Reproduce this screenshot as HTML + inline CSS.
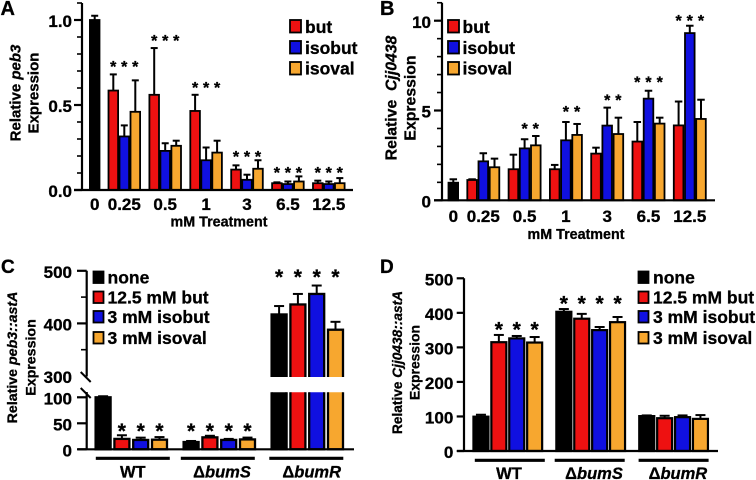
<!DOCTYPE html>
<html lang="en">
<head>
<meta charset="utf-8">
<title>Relative expression bar charts</title>
<style>
html,body{margin:0;padding:0;background:#fff;width:756px;height:480px;overflow:hidden}
svg{display:block}
text{font-family:"Liberation Sans",Arial,sans-serif;font-weight:bold;fill:#000;stroke:#000;stroke-width:.3px}
.leg{font-size:17.5px}
.swatch{stroke:#000;stroke-width:1.8}
</style>
</head>
<body>
<svg id="fig" xmlns="http://www.w3.org/2000/svg" width="756" height="480" viewBox="0 0 756 480">
  <defs>
    <clipPath id="clip-upper"><rect x="84" y="260" width="275" height="117"/></clipPath>
    <clipPath id="clip-lower"><rect x="84" y="392.3" width="275" height="60"/></clipPath>
  </defs>
  <g id="panel-a">
    <text x="0.5" y="15" font-size="20">A</text>
    <text transform="translate(20.5,93) rotate(-90)" text-anchor="middle" font-size="15">Relative <tspan font-style="italic">peb3</tspan></text>
    <text transform="translate(38.5,93) rotate(-90)" text-anchor="middle" font-size="15">Expression</text>
    <text x="219" y="226.5" text-anchor="middle" font-size="14.3">mM Treatment</text>
    <g>
      <rect class="swatch" x="290" y="20" width="11" height="12.5" fill="#ee1111"/>
      <rect class="swatch" x="290" y="41" width="11" height="12.5" fill="#1010e0"/>
      <rect class="swatch" x="290" y="62" width="11" height="12.5" fill="#f7a72f"/>
      <text class="leg" x="305" y="33">but</text>
      <text class="leg" x="305" y="54">isobut</text>
      <text class="leg" x="305" y="74.5">isoval</text>
    </g>
  </g>
  <g id="panel-b">
    <text x="380" y="15" font-size="20">B</text>
    <text transform="translate(396.5,98) rotate(-90)" text-anchor="middle" font-size="15.8" xml:space="preserve">Relative  <tspan font-style="italic">Cjj0438</tspan></text>
    <text transform="translate(415.5,98) rotate(-90)" text-anchor="middle" font-size="15.8">Expression</text>
    <text x="576" y="239" text-anchor="middle" font-size="14.3">mM Treatment</text>
    <g>
      <rect class="swatch" x="448" y="20" width="11" height="12.5" fill="#ee1111"/>
      <rect class="swatch" x="448" y="41" width="11" height="12.5" fill="#1010e0"/>
      <rect class="swatch" x="448" y="62" width="11" height="12.5" fill="#f7a72f"/>
      <text class="leg" x="462.5" y="33">but</text>
      <text class="leg" x="462.5" y="54">isobut</text>
      <text class="leg" x="462.5" y="74.5">isoval</text>
    </g>
  </g>
  <g id="panel-c">
    <text x="1" y="273" font-size="19">C</text>
    <text transform="translate(17,357.5) rotate(-90)" text-anchor="middle" font-size="14.2">Relative <tspan font-style="italic">peb3::astA</tspan></text>
    <text transform="translate(35.5,357.5) rotate(-90)" text-anchor="middle" font-size="14.2">Expression</text>
    <g>
      <rect class="swatch" x="93.5" y="271.5" width="10" height="11.5" fill="#000"/>
      <rect class="swatch" x="93.5" y="291.5" width="10" height="11.5" fill="#ee1111"/>
      <rect class="swatch" x="93.5" y="311" width="10" height="11.5" fill="#1010e0"/>
      <rect class="swatch" x="93.5" y="332" width="10" height="11.5" fill="#f7a72f"/>
      <text class="leg" x="107.5" y="283.5">none</text>
      <text class="leg" x="107.5" y="303.5">12.5 mM but</text>
      <text class="leg" x="107.5" y="323">3 mM isobut</text>
      <text class="leg" x="107.5" y="344">3 mM isoval</text>
    </g>
  </g>
  <g id="panel-d">
    <text x="380" y="273" font-size="19">D</text>
    <text transform="translate(402,362.5) rotate(-90)" text-anchor="middle" font-size="13.7">Relative <tspan font-style="italic">Cjj0438::astA</tspan></text>
    <text transform="translate(419.5,362.5) rotate(-90)" text-anchor="middle" font-size="13.9">Expression</text>
    <g>
      <rect class="swatch" x="638.5" y="271.5" width="10" height="11.5" fill="#000"/>
      <rect class="swatch" x="638.5" y="291.5" width="10" height="11.5" fill="#ee1111"/>
      <rect class="swatch" x="638.5" y="311" width="10" height="11.5" fill="#1010e0"/>
      <rect class="swatch" x="638.5" y="332" width="10" height="11.5" fill="#f7a72f"/>
      <text class="leg" x="653" y="283.5">none</text>
      <text class="leg" x="653" y="303.5">12.5 mM but</text>
      <text class="leg" x="653" y="323">3 mM isobut</text>
      <text class="leg" x="653" y="344">3 mM isoval</text>
    </g>
  </g>
</svg>
<script>
// ---- Panel A data ----
const doseCategories = ['0.25', '0.5', '1', '3', '6.5', '12.5'];
const aControl = 1.0;
const aControlErr = 0.025;
const aBut = [0.585, 0.56, 0.465, 0.12, 0.04, 0.04];
const aButErr = [0.095, 0.275, 0.095, 0.025, 0.005, 0.015];
const aIsobut = [0.315, 0.23, 0.175, 0.06, 0.035, 0.035];
const aIsobutErr = [0.065, 0.045, 0.075, 0.03, 0.015, 0.015];
const aIsoval = [0.46, 0.26, 0.22, 0.125, 0.05, 0.04];
const aIsovalErr = [0.185, 0.03, 0.07, 0.05, 0.03, 0.03];
const aStarLevels = [0.747, 0.9, 0.624, 0.218, 0.124, 0.124];
const aStarred = [[0,1,2],[0,1,2],[0,1,2],[0,1,2],[0,1,2],[0,1,2]];
const aTicks = [0, 0.5, 1];
const aTickLabels = ['0.0', '0.5', '1.0'];

// ---- Panel B data ----
const bControl = 0.98;
const bControlErr = 0.19;
const bBut = [1.13, 1.73, 1.73, 2.6, 3.27, 4.17];
const bButErr = [0.04, 0.81, 0.24, 0.33, 1.09, 1.33];
const bIsobut = [2.17, 2.89, 3.34, 4.16, 5.66, 9.31];
const bIsobutErr = [0.45, 0.51, 1.02, 1.0, 0.44, 0.41];
const bIsoval = [1.84, 3.06, 3.64, 3.69, 4.27, 4.53];
const bIsovalErr = [0.48, 0.52, 0.61, 0.91, 0.33, 1.07];
const bStarLevels = [null, 4.19, 5.14, 5.8, 6.8, 10.2];
const bStarred = [[],[1,2],[1,2],[1,2],[0,1,2],[0,1,2]];
const bTicks = [0, 5, 10];
const bTickLabels = ['0', '5', '10'];

// ---- Panel C data (broken axis) ----
const strainCategories = ['WT', 'bumS', 'bumR'];
const cNone = [100, 14, 417];
const cNoneErr = [2, 2, 16];
const cBut = [20, 23, 436];
const cButErr = [7, 3, 20];
const cIsobut = [18, 18, 456];
const cIsobutErr = [4.4, 2, 16];
const cIsoval = [18.5, 19, 388];
const cIsovalErr = [5, 3.5, 15];
const cStarLevels = [45, 45, 498];
const cStarred = [[1,2,3],[0,1,2,3],[0,1,2,3]];
const cTicks = [0, 50, 100, 300, 400, 500];
const cTickLabels = ['0', '50', '100', '300', '400', '500'];
const cMinorTicks = [350, 450];

// ---- Panel D data ----
const dNone = [99.4, 403, 101];
const dNoneErr = [5.6, 8, 2];
const dBut = [315, 383, 95];
const dButErr = [21, 14, 7];
const dIsobut = [326, 350, 98];
const dIsobutErr = [7, 9, 5];
const dIsoval = [314, 373, 93];
const dIsovalErr = [16, 15, 11];
const dStarLevels = [366, 442, null];
const dStarred = [[1,2,3],[0,1,2,3],[]];
const dTicks = [0, 100, 200, 300, 400, 500];
const dTickLabels = ['0', '100', '200', '300', '400', '500'];

const seriesColors = ['#000000', '#ee1111', '#1010e0', '#f7a72f'];
const seriesNames = ['none', 'but', 'isobut', 'isoval'];

const NS = 'http://www.w3.org/2000/svg';
function make(tag, parent, attrs) {
  const e = document.createElementNS(NS, tag);
  for (const k in attrs) e.setAttribute(k, attrs[k]);
  parent.appendChild(e);
  return e;
}
function line(parent, x1, y1, x2, y2, w, name) {
  const l = make('line', parent, {x1: x1, y1: y1, x2: x2, y2: y2, stroke: '#000', 'stroke-width': w});
  
  
  return l;
}
function label(parent, x, y, str, size, anchor, name) {
  const t = make('text', parent, {x: x, y: y + size * 0.36, 'font-size': size, 'text-anchor': anchor});
  t.textContent = str;
  
  
  return t;
}
function star(parent, x, y, size) {
  const t = make('text', parent, {x: x, y: y + size * 0.57, 'font-size': size, 'text-anchor': 'middle'});
  t.textContent = '*';
  
  
}
function bar(parent, cx, w, sw, yTop, yBase, color, name, clip) {
  const r = make('rect', parent, {x: cx - w / 2, y: yTop, width: w, height: Math.max(0, yBase - yTop), fill: color, stroke: '#000', 'stroke-width': sw});
  if (clip) r.setAttribute('clip-path', 'url(#' + clip + ')');
  
  
}
function errorBar(parent, cx, yBar, yErr, cap, sw) {
  line(parent, cx, yBar, cx, yErr, sw, 'error-bar-stem');
  line(parent, cx - cap / 2, yErr, cx + cap / 2, yErr, sw, 'error-bar-cap');
}

// ---- Panels A and B: dose response ----
function doseChart(host, o) {
  const y = v => o.y0 + (o.y1 - o.y0) * v / o.vMax;
  const gx = i => o.gx0 + i * o.gStep;
  const g = make('g', host, {});
  
  

  bar(g, o.xZero, o.barW, 1.8, y(o.control), y(0), seriesColors[0], 'bar-control', null);
  errorBar(g, o.xZero, y(o.control), y(o.control + o.controlErr), o.cap, 2);
  label(g, o.xZero, o.labelY, '0', 17, 'middle', 'x-tick-label');

  doseCategories.forEach((cat, i) => {
    o.series.forEach((vals, s) => {
      const cx = gx(i) + (s - 1) * o.barStep;
      errorBar(g, cx, y(vals[i]), y(vals[i] + o.errs[s][i]), o.cap, 2);
      bar(g, cx, o.barW, 1.8, y(vals[i]), y(0), seriesColors[s + 1], 'bar-' + seriesNames[s + 1] + '-' + cat, null);
    });
    o.starred[i].forEach(s => {
      star(g, gx(i) + (s - 1) * o.barStep, y(o.starLevels[i]), 16);
    });
    label(g, gx(i), o.labelY, cat, 17, 'middle', 'x-tick-label');
  });

  // axes
  line(g, o.axisX, y(o.vTop), o.axisX, y(0) + 1, 2.2, 'y-axis');
  line(g, o.axisX - 8, y(0), o.xEnd, y(0), 2.2, 'x-axis');
  for (let k = 0; k <= Math.round(o.vTop / o.minor); k++) {
    line(g, o.axisX - 5, y(k * o.minor), o.axisX, y(k * o.minor), 1.6, 'y-minor-tick');
  }
  o.ticks.forEach((v, i) => {
    line(g, o.axisX - 8, y(v), o.axisX, y(v), 2.2, 'y-major-tick');
    label(g, o.tickRight, y(v) + 1, o.tickLabels[i], 17, 'end', 'y-tick-label');
  });
}

doseChart(document.getElementById('panel-a'), {
  y0: 190, y1: 20, vMax: 1, vTop: 1.1, minor: 0.1,
  axisX: 82, xEnd: 353, xZero: 94.7, gx0: 124.3, gStep: 40.9, barStep: 11, barW: 9.6, cap: 7,
  labelY: 204, tickRight: 72,
  control: aControl, controlErr: aControlErr,
  series: [aBut, aIsobut, aIsoval], errs: [aButErr, aIsobutErr, aIsovalErr],
  starLevels: aStarLevels, starred: aStarred, ticks: aTicks, tickLabels: aTickLabels
});
doseChart(document.getElementById('panel-b'), {
  y0: 200.3, y1: 20.7, vMax: 10, vTop: 11, minor: 1,
  axisX: 442, xEnd: 715, xZero: 453.3, gx0: 483.3, gStep: 41.3, barStep: 11.2, barW: 9.6, cap: 7.5,
  labelY: 216, tickRight: 431,
  control: bControl, controlErr: bControlErr,
  series: [bBut, bIsobut, bIsoval], errs: [bButErr, bIsobutErr, bIsovalErr],
  starLevels: bStarLevels, starred: bStarred, ticks: bTicks, tickLabels: bTickLabels
});

// ---- Shared strain helpers for C and D ----
function strainLabels(g, i, x, lineY, labelY, half, lx) {
  line(g, x - half, lineY, x + half, lineY, 3.2, 'group-bracket');
  const cat = strainCategories[i];
  const t = make('text', g, {x: lx, y: labelY + 16.5 * 0.36, 'font-size': 16.5, 'text-anchor': 'middle'});
  if (cat === 'WT') {
    t.textContent = cat;
  } else {
    t.textContent = '\u0394';
    const it = make('tspan', t, {'font-style': 'italic'});
    it.textContent = cat;
  }
  
  
}

// ---- Panel C: broken axis ----
(function () {
  const host = document.getElementById('panel-c');
  const g = make('g', host, {});
  
  
  const yLow = v => 449.3 - v * 0.52;
  const yHigh = v => 376 - (v - 300) * 0.526;
  const y = v => (v <= 200 ? yLow(v) : yHigh(v));
  const gx = i => 131.3 + i * 88;
  const step = 18.8, w = 15, sw = 2.3;
  const series = [cNone, cBut, cIsobut, cIsoval];
  const errs = [cNoneErr, cButErr, cIsobutErr, cIsovalErr];

  strainCategories.forEach((cat, i) => {
    series.forEach((vals, s) => {
      const cx = gx(i) + (s - 1.5) * step;
      const v = vals[i];
      const name = 'bar-' + seriesNames[s] + '-' + cat;
      errorBar(g, cx, y(v), y(v + errs[s][i]), 10, 2);
      if (v > 200) {
        bar(g, cx, w, sw, y(v), 400, seriesColors[s], name + '-upper', 'clip-upper');
        bar(g, cx, w, sw, 380, yLow(0), seriesColors[s], name + '-lower', 'clip-lower');
      } else {
        bar(g, cx, w, sw, yLow(v), yLow(0), seriesColors[s], name, null);
      }
    });
    cStarred[i].forEach(s => {
      star(g, gx(i) + (s - 1.5) * step, y(cStarLevels[i]), 21);
    });
    strainLabels(g, i, gx(i) + (i === 0 ? 1.5 : i === 1 ? -1.5 : -1), 458.3, 471.7, 37, gx(i) + (i === 0 ? 1.5 : i === 1 ? 2.7 : 4.4));
  });

  line(g, 86.7, yHigh(500), 86.7, 376.5, 2.2, 'y-axis-upper');
  line(g, 86.7, 392, 86.7, yLow(0), 2.2, 'y-axis-lower');
  line(g, 80.7, 372, 90.7, 382, 2, 'axis-break-mark-upper');
  line(g, 80.7, 388, 90.7, 398, 2, 'axis-break-mark-lower');
  line(g, 78, yLow(0), 354, yLow(0), 2.2, 'x-axis');
  cMinorTicks.forEach(v => {
    line(g, 81, yHigh(v), 86.7, yHigh(v), 1.6, 'y-minor-tick');
  });
  cTicks.forEach((v, i) => {
    if (v !== 300) line(g, 77, y(v), 86.7, y(v), 2.2, 'y-major-tick');
    label(g, 72, y(v) + 1, cTickLabels[i], 17, 'end', 'y-tick-label');
  });
})();

// ---- Panel D ----
(function () {
  const host = document.getElementById('panel-d');
  const g = make('g', host, {});
  
  
  const y = v => 451 - v * 0.3454;
  const gx = i => 507.8 + i * 82.9;
  const step = 17.9, w = 15, sw = 2.2;
  const series = [dNone, dBut, dIsobut, dIsoval];
  const errs = [dNoneErr, dButErr, dIsobutErr, dIsovalErr];

  strainCategories.forEach((cat, i) => {
    series.forEach((vals, s) => {
      const cx = gx(i) + (s - 1.5) * step;
      errorBar(g, cx, y(vals[i]), y(vals[i] + errs[s][i]), 10, 2);
      bar(g, cx, w, sw, y(vals[i]), y(0), seriesColors[s], 'bar-' + seriesNames[s] + '-' + cat, null);
    });
    dStarred[i].forEach(s => {
      star(g, gx(i) + (s - 1.5) * step, y(dStarLevels[i]), 21);
    });
    strainLabels(g, i, gx(i) + (i === 0 ? 2 : i === 1 ? -1 : 0), 460.3, 473.3, 35, gx(i) + (i === 0 ? 1.2 : i === 1 ? 3.3 : 4.3));
  });

  line(g, 464, y(500), 464, y(0), 2.2, 'y-axis');
  line(g, 457, y(0), 718, y(0), 2.2, 'x-axis');
  dTicks.forEach((v, i) => {
    line(g, 456.7, y(v), 464, y(v), 2.2, 'y-major-tick');
    label(g, 453.3, y(v) + 1, dTickLabels[i], 17, 'end', 'y-tick-label');
  });
})();
</script>
</body>
</html>
